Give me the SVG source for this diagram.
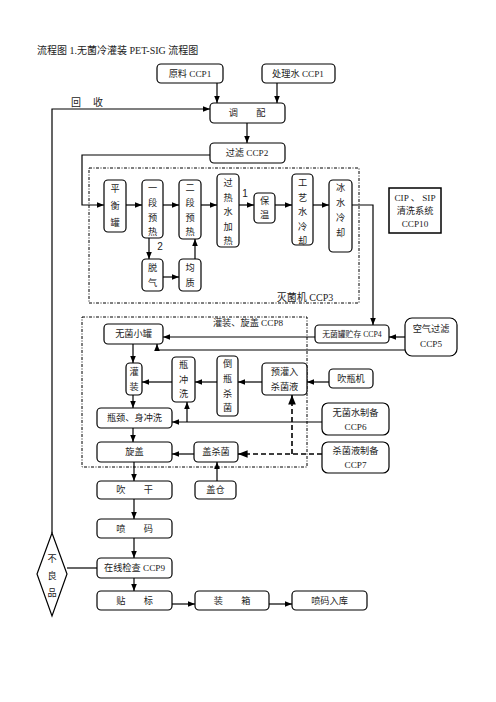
<svg xmlns="http://www.w3.org/2000/svg" width="496" height="702" viewBox="0 0 496 702">
<defs>
<marker id="ah" viewBox="0 0 10 10" refX="10" refY="5" markerWidth="6" markerHeight="6" orient="auto"><path d="M0,1 L10,5 L0,9 z" fill="#000"/></marker>
<style>
.b{fill:#fff;stroke:#000;stroke-width:1.2}
.t{font-family:"Liberation Serif","Noto Sans CJK SC",serif;font-size:9.2px;fill:#222;text-anchor:middle;dominant-baseline:central}
.c{fill:none;stroke:#000;stroke-width:1.2}
.a{fill:none;stroke:#000;stroke-width:1.2;marker-end:url(#ah)}
.d{fill:none;stroke:#000;stroke-width:1.6;stroke-dasharray:5,3}
.dd{fill:none;stroke:#000;stroke-width:1;stroke-dasharray:3,1.5,1,1.5}
</style>
</defs>
<rect width="496" height="702" fill="#fff"/>
<text x="37" y="50" class="t" style="text-anchor:start;font-size:10px">流程图 1.无菌冷灌装 PET-SIG 流程图</text>

<g id="frames">
<rect x="89" y="168" width="270" height="135" class="dd"/>
<rect x="82" y="317" width="225" height="150" class="dd"/>
<text x="305" y="297" class="t" style="font-size:10px">灭菌机 CCP3</text>
<text x="248" y="323" class="t">灌装、旋盖 CCP8</text>
</g>

<g id="connectors">
<path d="M217,83 V103" class="a"/>
<path d="M277,83 V103" class="a"/>
<path d="M52,533 V109 H210" class="a"/>
<path d="M247,123 V143" class="a"/>
<path d="M210,155 H82 V205 H104" class="a"/>
<path d="M126,205 H142" class="a"/>
<path d="M163,205 H179" class="a"/>
<path d="M201,205 H217" class="a"/>
<path d="M239,205 H254" class="a"/>
<path d="M275,205 H292" class="a"/>
<path d="M313,205 H329" class="a"/>
<path d="M149,238 V259" class="a"/>
<path d="M163,277 H179" class="a"/>
<path d="M195,259 V239" class="a"/>
<path d="M352,205 H373 V325" class="a"/>
<path d="M405,337 H389" class="a"/>
<path d="M315,337 H163" class="a"/>
<path d="M405,350 H157 V344" class="a"/>
<path d="M133,344 V363" class="a"/>
<path d="M329,382 H307" class="a"/>
<path d="M262,382 H238" class="a"/>
<path d="M217,382 H195" class="a"/>
<path d="M172,382 H142" class="a"/>
<path d="M133,395 V408" class="a"/>
<path d="M322,422 H172" class="a"/>
<path d="M187,422 V402" class="a"/>
<path d="M133,428 V442" class="a"/>
<path d="M194,454 H172" class="a"/>
<path d="M322,454 H238" class="d" marker-end="url(#ah)"/>
<path d="M292,454 V395" class="d" marker-end="url(#ah)"/>
<path d="M217,481 V462" class="a"/>
<path d="M134,462 V481" class="a"/>
<path d="M134,499 V519" class="a"/>
<path d="M134,538 V558" class="a"/>
<path d="M134,578 V591" class="a"/>
<path d="M97,568 H67" class="c"/>
<path d="M172,604 H195" class="a"/>
<path d="M269,604 H292" class="a"/>
<text x="245" y="193" class="t" style="font-family:'Liberation Sans',sans-serif;font-size:10px">1</text>
<text x="160" y="246" class="t" style="font-family:'Liberation Sans',sans-serif;font-size:10px">2</text>
<text x="76" y="102" class="t" style="font-size:10px">回</text>
<text x="98" y="102" class="t" style="font-size:10px">收</text>
</g>

<g id="n_raw"><rect x="157" y="64" width="66" height="19" rx="4" class="b"/><text x="190" y="74" class="t">原料 CCP1</text></g>
<g id="n_water"><rect x="262" y="64" width="73" height="19" rx="4" class="b"/><text x="298" y="74" class="t">处理水 CCP1</text></g>
<g id="n_mix"><rect x="210" y="103" width="75" height="20" rx="4" class="b"/><text x="247" y="113" class="t">调　　配</text></g>
<g id="n_filter"><rect x="210" y="143" width="75" height="20" rx="4" class="b"/><text x="247" y="153" class="t">过滤 CCP2</text></g>

<g id="n_balance"><rect x="104" y="180" width="22" height="52" rx="4" class="b"/><text x="115" class="t"><tspan x="115" y="189">平</tspan><tspan x="115" y="206">衡</tspan><tspan x="115" y="223">罐</tspan></text></g>
<g id="n_pre1"><rect x="142" y="180" width="21" height="58" rx="4" class="b"/><text class="t"><tspan x="152.5" y="188">一</tspan><tspan x="152.5" y="203">段</tspan><tspan x="152.5" y="218">预</tspan><tspan x="152.5" y="232">热</tspan></text></g>
<g id="n_pre2"><rect x="179" y="180" width="22" height="59" rx="4" class="b"/><text class="t"><tspan x="190" y="188">二</tspan><tspan x="190" y="203">段</tspan><tspan x="190" y="218">预</tspan><tspan x="190" y="232">热</tspan></text></g>
<g id="n_superheat"><rect x="217" y="174" width="22" height="73" rx="4" class="b"/><text class="t"><tspan x="228" y="183">过</tspan><tspan x="228" y="198">热</tspan><tspan x="228" y="212">水</tspan><tspan x="228" y="227">加</tspan><tspan x="228" y="241">热</tspan></text></g>
<g id="n_hold"><rect x="254" y="193" width="21" height="30" rx="4" class="b"/><text class="t"><tspan x="264.5" y="201">保</tspan><tspan x="264.5" y="215">温</tspan></text></g>
<g id="n_cool1"><rect x="292" y="174" width="21" height="71" rx="4" class="b"/><text class="t"><tspan x="302.5" y="183">工</tspan><tspan x="302.5" y="198">艺</tspan><tspan x="302.5" y="212">水</tspan><tspan x="302.5" y="227">冷</tspan><tspan x="302.5" y="241">却</tspan></text></g>
<g id="n_cool2"><rect x="329" y="180" width="23" height="72" rx="4" class="b"/><text class="t"><tspan x="340.5" y="188">冰</tspan><tspan x="340.5" y="203">水</tspan><tspan x="340.5" y="218">冷</tspan><tspan x="340.5" y="233">却</tspan></text></g>
<g id="n_degas"><rect x="142" y="259" width="21" height="32" rx="4" class="b"/><text class="t"><tspan x="152.5" y="268">脱</tspan><tspan x="152.5" y="283">气</tspan></text></g>
<g id="n_homo"><rect x="179" y="259" width="22" height="32" rx="4" class="b"/><text class="t"><tspan x="190" y="268">均</tspan><tspan x="190" y="283">质</tspan></text></g>

<g id="n_cip"><rect x="389" y="188" width="52" height="45" class="b" style="stroke-width:1.5"/><text class="t"><tspan x="415" y="198">CIP 、 SIP</tspan><tspan x="415" y="211">清洗系统</tspan><tspan x="415" y="224">CCP10</tspan></text></g>

<g id="n_tank"><rect x="315" y="325" width="74" height="18" rx="4" class="b"/><text x="352" y="334" class="t" style="font-size:7.8px">无菌罐贮存 CCP4</text></g>
<g id="n_air"><rect x="405" y="318" width="52" height="38" rx="7" class="b"/><text class="t"><tspan x="431" y="329">空气过滤</tspan><tspan x="431" y="344">CCP5</tspan></text></g>
<g id="n_smalltank"><rect x="104" y="324" width="59" height="20" rx="4" class="b"/><text x="133.5" y="334" class="t">无菌小罐</text></g>
<g id="n_fill"><rect x="126" y="363" width="16" height="32" rx="4" class="b"/><text class="t"><tspan x="134" y="372">灌</tspan><tspan x="134" y="387">装</tspan></text></g>
<g id="n_rinse"><rect x="172" y="357" width="23" height="45" rx="4" class="b"/><text class="t"><tspan x="183.5" y="365">瓶</tspan><tspan x="183.5" y="380">冲</tspan><tspan x="183.5" y="394">洗</tspan></text></g>
<g id="n_invert"><rect x="217" y="356" width="21" height="60" rx="4" class="b"/><text class="t"><tspan x="227.5" y="364">倒</tspan><tspan x="227.5" y="379">瓶</tspan><tspan x="227.5" y="394">杀</tspan><tspan x="227.5" y="408">菌</tspan></text></g>
<g id="n_prefill"><rect x="262" y="363" width="45" height="32" rx="4" class="b"/><text class="t"><tspan x="284.5" y="372">预灌入</tspan><tspan x="284.5" y="387">杀菌液</tspan></text></g>
<g id="n_blow"><rect x="329" y="369" width="44" height="19" rx="4" class="b"/><text x="351" y="378.5" class="t">吹瓶机</text></g>
<g id="n_neck"><rect x="97" y="408" width="75" height="20" rx="4" class="b"/><text x="134.5" y="418" class="t">瓶颈、身冲洗</text></g>
<g id="n_swater"><rect x="322" y="403" width="67" height="32" rx="6" class="b"/><text class="t"><tspan x="355.5" y="413">无菌水制备</tspan><tspan x="355.5" y="427">CCP6</tspan></text></g>
<g id="n_cap"><rect x="97" y="442" width="75" height="20" rx="4" class="b"/><text x="134.5" y="452" class="t">旋盖</text></g>
<g id="n_capster"><rect x="194" y="442" width="44" height="20" rx="4" class="b"/><text x="216" y="452" class="t">盖杀菌</text></g>
<g id="n_steril"><rect x="322" y="442" width="67" height="31" rx="6" class="b"/><text class="t"><tspan x="355.5" y="451">杀菌液制备</tspan><tspan x="355.5" y="465">CCP7</tspan></text></g>
<g id="n_capbin"><rect x="195" y="481" width="41" height="18" rx="4" class="b"/><text x="215.5" y="490" class="t">盖仓</text></g>
<g id="n_dry"><rect x="97" y="481" width="75" height="18" rx="4" class="b"/><text x="134.5" y="490" class="t">吹　　干</text></g>
<g id="n_code"><rect x="97" y="519" width="75" height="19" rx="4" class="b"/><text x="134.5" y="528.5" class="t">喷　　码</text></g>
<g id="n_check"><rect x="97" y="558" width="75" height="20" rx="4" class="b"/><text x="134.5" y="568" class="t">在线检查 CCP9</text></g>
<g id="n_label"><rect x="97" y="591" width="75" height="19" rx="4" class="b"/><text x="134.5" y="600.5" class="t">贴　　标</text></g>
<g id="n_box"><rect x="195" y="591" width="74" height="19" rx="4" class="b"/><text x="232" y="600.5" class="t">装　　箱</text></g>
<g id="n_store"><rect x="292" y="591" width="75" height="19" rx="4" class="b"/><text x="329.5" y="600.5" class="t">喷码入库</text></g>
<g id="n_reject"><path d="M52,533 L67,574 L52,616 L37,574 Z" class="b"/><text class="t"><tspan x="52" y="559">不</tspan><tspan x="52" y="576">良</tspan><tspan x="52" y="593">品</tspan></text></g>
</svg>
